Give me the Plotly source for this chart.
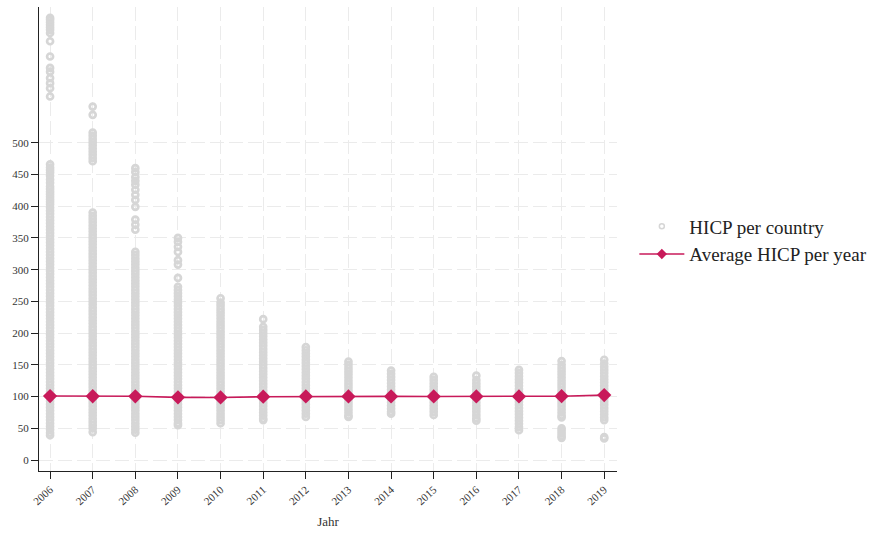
import plotly.graph_objects as go

years = [2006, 2007, 2008, 2009, 2010, 2011, 2012, 2013, 2014, 2015, 2016, 2017, 2018, 2019]

hicp_2006 = [697, 694, 690, 686, 682, 678, 673, 660, 636, 618, 612, 602, 594, 586, 573,
             466, 461, 457, 453, 448, 442, 437, 431, 427, 423, 419, 415, 411, 407, 403,
             398, 393, 388, 383, 378, 373, 368, 363, 358, 353, 348, 343, 338, 333, 328, 323, 318, 313,
             308, 303, 298, 293, 288, 283, 278, 273, 268, 263, 258, 253, 248, 243, 238, 233, 228, 223,
             218, 213, 208, 203, 198, 193, 188, 183, 178, 173, 168, 163, 158, 153, 148, 143, 138, 133,
             128, 123, 118, 113, 108, 103, 98, 93, 88, 83, 78, 73, 68, 63, 58, 53, 48, 43, 39]
hicp_2007 = [557, 544, 516, 511, 506, 501, 496, 491, 486, 481, 476, 471,
             390, 385, 380, 375, 370, 365, 360, 355, 350, 345, 340, 335, 330, 325, 320, 315, 310, 305,
             300, 295, 290, 285, 280, 275, 270, 265, 260, 255, 250, 245, 240, 235, 230, 225, 220, 215,
             210, 205, 200, 195, 190, 185, 180, 175, 170, 165, 160, 155, 150, 145, 140, 135, 130, 125,
             120, 115, 110, 105, 100, 95, 90, 85, 80, 75, 70, 65, 60, 55, 50, 44]
hicp_2008 = [460, 454, 446, 440, 434, 426, 418, 410, 399, 379, 371, 363,
             328, 323, 318, 313, 308, 303, 298, 293, 288, 283, 278, 273, 268, 263, 258, 253, 248, 243,
             238, 233, 228, 223, 218, 213, 208, 203, 198, 193, 188, 183, 178, 173, 168, 163, 158, 153,
             148, 143, 138, 133, 128, 123, 118, 113, 108, 103, 98, 93, 88, 83, 78, 73, 68, 63, 58, 53,
             48, 43]
hicp_2009 = [350, 344, 336, 328, 315, 308, 287,
             273, 268, 263, 258, 253, 248, 243, 238, 233, 228, 223, 218, 213, 208, 203, 198, 193, 188,
             183, 178, 173, 168, 163, 158, 153, 148, 143, 138, 133, 128, 123, 118, 113, 108, 103, 98,
             93, 88, 83, 78, 73, 68, 63, 58, 55]
hicp_2010 = [255, 248, 243, 238, 233, 228, 223, 218, 213, 208, 203, 198, 193, 188, 183, 178, 173,
             168, 163, 158, 153, 148, 143, 138, 133, 128, 123, 118, 113, 108, 103, 98, 93, 88, 83, 78,
             73, 68, 63, 58]
hicp_2011 = [222, 210, 205, 200, 195, 190, 185, 180, 175, 170, 165, 160, 155, 150, 145, 140, 135,
             130, 125, 120, 115, 110, 105, 100, 95, 90, 85, 80, 75, 70, 65, 63]
hicp_2012 = [178, 173, 168, 163, 158, 153, 148, 143, 138, 133, 128, 123, 118, 113, 108, 103, 98, 93,
             88, 83, 78, 73, 68]
hicp_2013 = [155, 150, 145, 140, 135, 130, 125, 120, 115, 110, 105, 100, 95, 90, 85, 80, 75, 70, 68]
hicp_2014 = [141, 136, 131, 126, 121, 116, 111, 106, 101, 96, 91, 86, 81, 76, 73]
hicp_2015 = [131, 126, 121, 116, 111, 106, 101, 96, 91, 86, 81, 76, 71]
hicp_2016 = [133, 126, 121, 116, 111, 106, 101, 96, 91, 86, 81, 76, 71, 66, 62]
hicp_2017 = [142, 137, 132, 127, 122, 117, 112, 107, 102, 97, 92, 87, 82, 77, 72, 67, 62, 57, 52, 47]
hicp_2018 = [156, 150, 145, 140, 135, 130, 125, 120, 115, 110, 105, 100, 95, 90, 85, 80, 75, 70, 67,
             50, 46, 42, 38, 35]
hicp_2019 = [158, 152, 147, 142, 137, 132, 127, 122, 117, 112, 107, 102, 97, 92, 87, 82, 77, 72, 67,
             63, 36, 34]

avg_hicp = [100.8, 100.5, 100.4, 98.8, 98.6, 99.8, 100.2, 100.3, 100.3, 100.2, 100.2, 100.3, 100.6, 102.3]

y_ticks = [0, 50, 100, 150, 200, 250, 300, 350, 400, 450, 500]

per_year = [hicp_2006, hicp_2007, hicp_2008, hicp_2009, hicp_2010, hicp_2011, hicp_2012,
            hicp_2013, hicp_2014, hicp_2015, hicp_2016, hicp_2017, hicp_2018, hicp_2019]

xs, ys = [], []
for yr, vals in zip(years, per_year):
    xs.extend([yr] * len(vals))
    ys.extend(vals)

SERIF = "Liberation Serif, Times New Roman, serif"
RED = "#c81a5a"
GRAY = "#d6d6d6"

fig = go.Figure()
# data traces
fig.add_trace(go.Scatter(
    x=xs, y=ys, mode="markers", name="HICP per country", showlegend=False,
    marker=dict(symbol="circle-open", size=6, color=GRAY, line=dict(width=2.7, color=GRAY)),
))
fig.add_trace(go.Scatter(
    x=years, y=avg_hicp, mode="lines+markers", name="Average HICP per year", showlegend=False,
    line=dict(color=RED, width=1.6),
    marker=dict(symbol="diamond", size=11, color=RED),
))
# legend entries (smaller symbols, as in the reference legend)
fig.add_trace(go.Scatter(
    x=[None], y=[None], mode="markers", name="HICP per country",
    marker=dict(symbol="circle-open", size=5, color=GRAY, line=dict(width=1.5, color=GRAY)),
))
fig.add_trace(go.Scatter(
    x=[None], y=[None], mode="lines+markers", name="Average HICP per year",
    line=dict(color=RED, width=1.6),
    marker=dict(symbol="diamond", size=8, color=RED),
))

fig.update_layout(
    width=879, height=534,
    margin=dict(l=39, r=262, t=7, b=63),
    paper_bgcolor="white", plot_bgcolor="white",
    font=dict(family=SERIF, color="#333333"),
    showlegend=True,
    legend=dict(x=1.03, y=0.497, xanchor="left", yanchor="middle",
                font=dict(family=SERIF, size=19, color="#222222"),
                bgcolor="rgba(0,0,0,0)", itemwidth=45, tracegroupgap=0),
)
fig.update_xaxes(
    range=[2005.74, 2019.3],
    tickmode="array", tickvals=years, ticktext=[str(y) for y in years],
    tickangle=-42, tickfont=dict(family=SERIF, size=11, color="#333333"),
    ticks="outside", ticklen=7, tickwidth=1, tickcolor="#222222",
    showline=True, linecolor="#222222", linewidth=1.3,
    showgrid=True, gridcolor="#ebebeb", griddash="14px,5px", gridwidth=1,
    zeroline=False,
    title=dict(text="Jahr", font=dict(family=SERIF, size=13, color="#333333"), standoff=10),
)
fig.update_yaxes(
    range=[-17.3, 714],
    tickmode="array", tickvals=y_ticks,
    tickfont=dict(family=SERIF, size=11, color="#333333"),
    ticks="outside", ticklen=7, tickwidth=1, tickcolor="#222222",
    showline=True, linecolor="#222222", linewidth=1.3,
    showgrid=True, gridcolor="#ebebeb", griddash="14px,5px", gridwidth=1,
    zeroline=False,
)

fig.write_html("out.html")
